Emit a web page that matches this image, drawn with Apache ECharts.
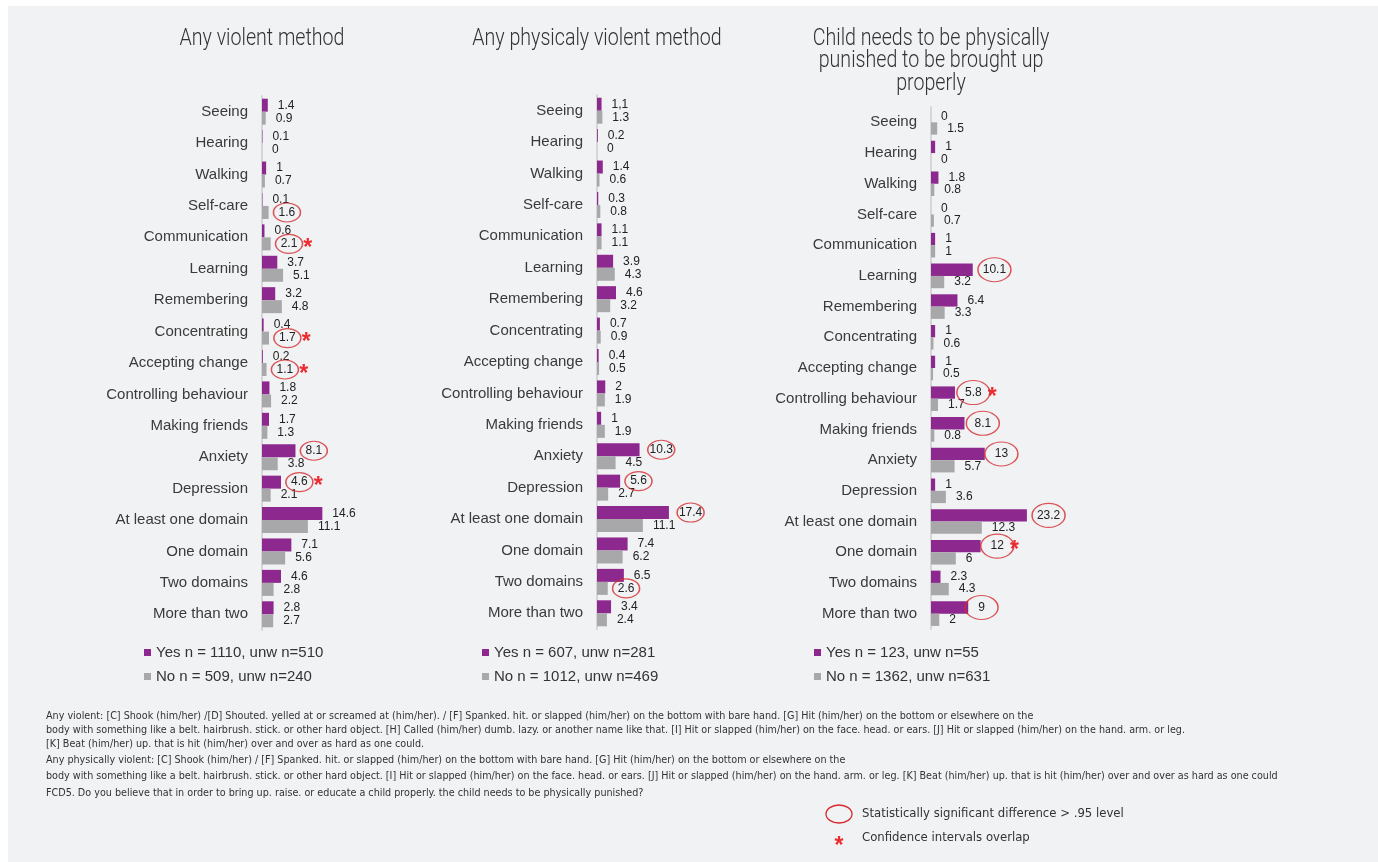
<!DOCTYPE html>
<html><head><meta charset="utf-8">
<script src="https://cdn.jsdelivr.net/npm/echarts@6/dist/echarts.min.js"></script>
<style>html,body{margin:0;padding:0;background:#fff}#c{width:1378px;height:862px}</style>
</head><body><div id="c"></div>
<script>
const categories = ["Seeing","Hearing","Walking","Self-care","Communication","Learning","Remembering","Concentrating","Accepting change","Controlling behaviour","Making friends","Anxiety","Depression","At least one domain","One domain","Two domains","More than two"];
const panelTitles = [["Any violent method"],["Any physicaly violent method"],["Child needs to be physically","punished to be brought up","properly"]];

const p1Yes = [1.4,0.1,1,0.1,0.6,3.7,3.2,0.4,0.2,1.8,1.7,8.1,4.6,14.6,7.1,4.6,2.8];
const p1No  = [0.9,0,0.7,1.6,2.1,5.1,4.8,1.7,1.1,2.2,1.3,3.8,2.1,11.1,5.6,2.8,2.7];
const p2Yes = [1.1,0.2,1.4,0.3,1.1,3.9,4.6,0.7,0.4,2,1,10.3,5.6,17.4,7.4,6.5,3.4];
const p2No  = [1.3,0,0.6,0.8,1.1,4.3,3.2,0.9,0.5,1.9,1.9,4.5,2.7,11.1,6.2,2.6,2.4];
const p3Yes = [0,1,1.8,0,1,10.1,6.4,1,1,5.8,8.1,13,1,23.2,12,2.3,9];
const p3No  = [1.5,0,0.8,0.7,1,3.2,3.3,0.6,0.5,1.7,0.8,5.7,3.6,12.3,6,4.3,2];

const p1YesName = "Yes n = 1110, unw n=510", p1NoName = "No n = 509, unw n=240";
const p2YesName = "Yes n = 607, unw n=281",  p2NoName = "No n = 1012, unw n=469";
const p3YesName = "Yes n = 123, unw n=55",   p3NoName = "No n = 1362, unw n=631";

// indices of circled (significant) values and of values with an asterisk
const p1YesCircled = [11,12], p1YesStar = [12];
const p1NoCircled  = [3,4,7,8], p1NoStar = [4,7,8];
const p2YesCircled = [11,12,13], p2YesStar = [];
const p2NoCircled  = [15], p2NoStar = [];
const p3YesCircled = [5,9,10,11,13,14,16], p3YesStar = [9,14];
const p3NoCircled  = [], p3NoStar = [];

// printed label text that differs from the value
const labelOverrides = {"1-yes-0": "1,1"};

const footnotes = [
 "Any violent: [C] Shook (him/her) /[D] Shouted. yelled at or screamed at (him/her). / [F] Spanked. hit. or slapped (him/her) on the bottom with bare hand. [G] Hit (him/her) on the bottom or elsewhere on the",
 "body with something like a belt. hairbrush. stick. or other hard object. [H] Called (him/her) dumb. lazy. or another name like that. [I] Hit or slapped (him/her) on the face. head. or ears. [J] Hit or slapped (him/her) on the hand. arm. or leg.",
 "[K] Beat (him/her) up. that is hit (him/her) over and over as hard as one could.",
 "Any physically violent: [C] Shook (him/her) / [F] Spanked. hit. or slapped (him/her) on the bottom with bare hand. [G] Hit (him/her) on the bottom or elsewhere on the",
 "body with something like a belt. hairbrush. stick. or other hard object. [I] Hit or slapped (him/her) on the face. head. or ears. [J] Hit or slapped (him/her) on the hand. arm. or leg. [K] Beat (him/her) up. that is hit (him/her) over and over as hard as one could",
 "FCD5. Do you believe that in order to bring up. raise. or educate a child properly. the child needs to be physically punished?"
];
const sigLegendText = "Statistically significant difference > .95 level";
const starLegendText = "Confidence intervals overlap";

// ---------- styling / layout ----------
const PURPLE = "#8d288e", GREY = "#a8a8aa", RED = "#d42a2e", STAR = "#ee2b2f";
const BASE_FONT = "'Liberation Sans', Arial, sans-serif";
const NARROW_FONT = "'Liberation Sans Narrow', 'DejaVu Sans Condensed', Arial, sans-serif";
const TITLE_FONT = "300 23px Roboto, 'Liberation Sans', sans-serif";
const LABEL_SIZE = 12;
const LABEL_DIST = 10;

const panels = [
  {left:262, top:96,  height:534, barW:13,   ell:[27,19], legendLeft:144, titleY:39, yes:p1Yes, no:p1No, yesName:p1YesName, noName:p1NoName, yc:p1YesCircled, ys:p1YesStar, nc:p1NoCircled, ns:p1NoStar},
  {left:597, top:95,  height:534, barW:13,   ell:[27,19], legendLeft:482, titleY:39, yes:p2Yes, no:p2No, yesName:p2YesName, noName:p2NoName, yc:p2YesCircled, ys:p2YesStar, nc:p2NoCircled, ns:p2NoStar},
  {left:931, top:107, height:522, barW:12.3, ell:[33,24], legendLeft:814, titleY:39, yes:p3Yes, no:p3No, yesName:p3YesName, noName:p3NoName, yc:p3YesCircled, ys:p3YesStar, nc:p3NoCircled, ns:p3NoStar}
];

const ctx = document.createElement('canvas').getContext('2d');
function textW(s, font){ ctx.font = font; return ctx.measureText(s).width; }
function labelStr(pi, kind, idx, v){ const k = pi + "-" + kind + "-" + idx; return labelOverrides[k] !== undefined ? labelOverrides[k] : String(v); }
// condensed look for the titles (reference uses a condensed display face)
const titleScale = 165 / textW("Any violent method", TITLE_FONT);

const grids = [], xAxes = [], yAxes = [], series = [], legends = [];
const graphics = [
  {type:'rect', shape:{x:8, y:6, width:1370, height:856}, style:{fill:'#f1f2f4'}, z:-100, silent:true}
];
panels.forEach((P, pi) => {
  grids.push({left:P.left, top:P.top, height:P.height, width:124, containLabel:false});
  xAxes.push({type:'value', gridIndex:pi, min:0, max:30, show:false});
  yAxes.push({type:'category', gridIndex:pi, data:categories, inverse:true,
    axisLine:{show:true, lineStyle:{color:'#d6d6d8', width:2}}, axisTick:{show:false},
    axisLabel:{fontSize:15, color:'#3a3a3a', margin:14, fontFamily:BASE_FONT}, splitLine:{show:false}});
  const mk = (kind, vals, name, color, stars) => ({
    type:'bar', name:name, xAxisIndex:pi, yAxisIndex:pi, data:vals, barWidth:P.barW, barGap:'0%',
    itemStyle:{color:color}, silent:true, animation:false,
    label:{show:true, position:'right', distance:LABEL_DIST, fontFamily:BASE_FONT,
      formatter:(p) => { const t = labelStr(pi, kind, p.dataIndex, p.value); return stars.includes(p.dataIndex) ? '{v|' + t + '}{a|*}' : '{v|' + t + '}'; },
      rich:{v:{fontSize:LABEL_SIZE, color:'#222', fontFamily:BASE_FONT}, a:{fontSize:23, fontWeight:'bold', color:STAR, fontFamily:BASE_FONT, padding:[10,0,0,6]}}}
  });
  series.push(mk('yes', P.yes, P.yesName, PURPLE, P.ys));
  series.push(mk('no', P.no, P.noName, GREY, P.ns));
  const lf = LABEL_SIZE + "px " + BASE_FONT;
  const ellData = [];
  P.yc.forEach(i => ellData.push({value:[P.yes[i], i], symbolOffset:[LABEL_DIST + textW(labelStr(pi,'yes',i,P.yes[i]), lf)/2, -P.barW/2]}));
  P.nc.forEach(i => ellData.push({value:[P.no[i], i], symbolOffset:[LABEL_DIST + textW(labelStr(pi,'no',i,P.no[i]), lf)/2, P.barW/2]}));
  series.push({type:'scatter', name:'sig' + pi, xAxisIndex:pi, yAxisIndex:pi, data:ellData, symbol:'circle', symbolSize:P.ell,
    itemStyle:{color:'rgba(0,0,0,0)', borderColor:RED, borderWidth:1.3}, silent:true, animation:false, z:5});
  legends.push({data:[P.yesName, P.noName], left:P.legendLeft, top:645, orient:'vertical', icon:'rect', itemWidth:7, itemHeight:7, itemGap:9, padding:0,
    selectedMode:false, textStyle:{fontSize:15, color:'#333', fontFamily:BASE_FONT}});
  panelTitles[pi].forEach((line, li) => graphics.push({type:'text', x:P.left, y:P.titleY + li * 22.5, scaleX:titleScale, scaleY:1,
    style:{text:line, fill:'#333', font:TITLE_FONT, textAlign:'center', textVerticalAlign:'middle'}, silent:true}));
});

const footY = [716, 730, 744, 760, 776, 793];
footnotes.forEach((t, i) => graphics.push({type:'text', x:46, y:footY[i], style:{text:t, fill:'#333', font:"10.7px " + NARROW_FONT, textVerticalAlign:'middle'}, silent:true}));
graphics.push({type:'ellipse', shape:{cx:839, cy:814, rx:13, ry:9}, style:{fill:'none', stroke:RED, lineWidth:1.3}, silent:true});
graphics.push({type:'text', x:862, y:814, style:{text:sigLegendText, fill:'#333', font:"13px " + NARROW_FONT, textVerticalAlign:'middle'}, silent:true});
graphics.push({type:'text', x:839, y:847, style:{text:'*', fill:STAR, font:"bold 23px " + BASE_FONT, textAlign:'center', textVerticalAlign:'middle'}, silent:true});
graphics.push({type:'text', x:862, y:838, style:{text:starLegendText, fill:'#333', font:"13px " + NARROW_FONT, textVerticalAlign:'middle'}, silent:true});

const chart = echarts.init(document.getElementById('c'), null, {renderer:'canvas'});
chart.setOption({
  backgroundColor:'#ffffff', animation:false,
  grid:grids, xAxis:xAxes, yAxis:yAxes, series:series, legend:legends, graphic:graphics
});
</script></body></html>
